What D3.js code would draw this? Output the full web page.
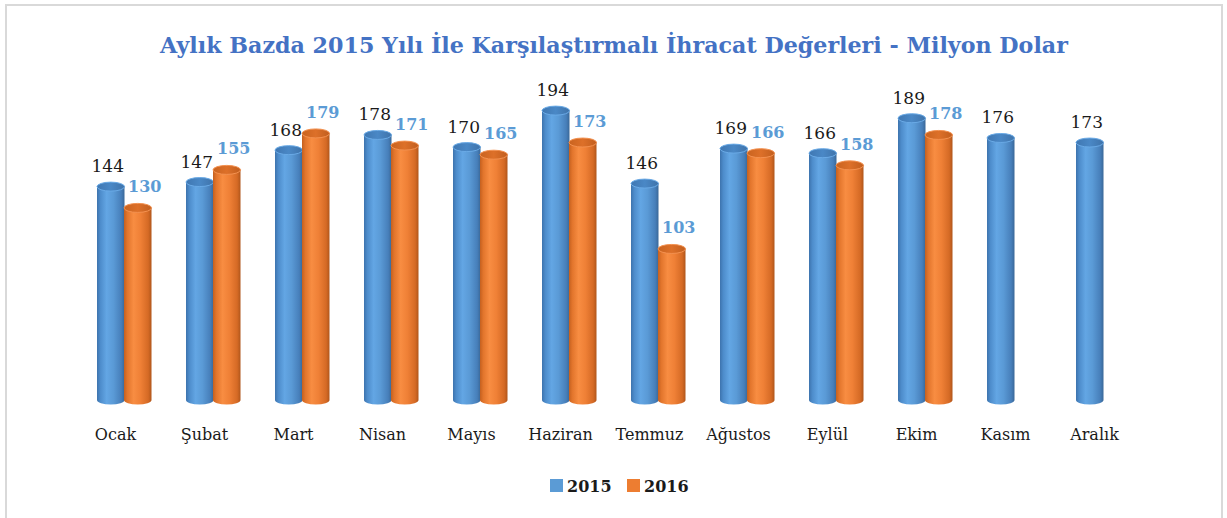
<!DOCTYPE html>
<html>
<head>
<meta charset="utf-8">
<script src="https://cdn.jsdelivr.net/npm/d3@7"></script>
<style>
  body { margin: 0; background: #fff; }
</style>
</head>
<body>
<div id="chart"></div>
<script>
// data
var months = ["Ocak", "Şubat", "Mart", "Nisan", "Mayıs", "Haziran", "Temmuz", "Ağustos", "Eylül", "Ekim", "Kasım", "Aralık"];
var series = ["2015", "2016"];
var values2015 = [144, 147, 168, 178, 170, 194, 146, 169, 166, 189, 176, 173];
var values2016 = [130, 155, 179, 171, 165, 173, 103, 166, 158, 178, null, null];
var title = "Aylık Bazda 2015 Yılı İle Karşılaştırmalı İhracat Değerleri - Milyon Dolar";

var W = 1227, H = 518;
var FONT = "'DejaVu Serif', serif";
var svg = d3.select("#chart").append("svg")
  .attr("width", W)
  .attr("height", H)
  .attr("font-family", FONT);

// gradients for the cylinders
var defs = svg.append("defs");
function bodyGrad(id, stops) {
  var g = defs.append("linearGradient").attr("id", id)
    .attr("x1", "0%").attr("x2", "100%").attr("y1", "0%").attr("y2", "0%");
  stops.forEach(s => g.append("stop").attr("offset", s[0]).attr("stop-color", s[1]));
}
bodyGrad("blueBody", [[0, "#3d73ad"], [0.12, "#4d8ccb"], [0.35, "#63a6e4"], [0.6, "#5a9ad6"], [0.88, "#477fba"], [1, "#3a6898"]]);
bodyGrad("orangeBody", [[0, "#c4601f"], [0.12, "#e2752c"], [0.35, "#f88d42"], [0.6, "#ef8036"], [0.88, "#d56a25"], [1, "#b0561b"]]);
bodyGrad("blueTop", [[0, "#3f77b2"], [0.5, "#4a88c6"], [1, "#3f73aa"]]);
bodyGrad("orangeTop", [[0, "#c9631f"], [0.5, "#dd7029"], [1, "#c15e1e"]]);

// frame
svg.append("rect")
  .attr("x", 6).attr("y", 5)
  .attr("width", 1216).attr("height", 530)
  .attr("fill", "none")
  .attr("stroke", "#d9d9d9")
  .attr("stroke-width", 2);

// title, fitted to its width in the reference
var t = svg.append("text")
  .attr("x", 614).attr("y", 53)
  .attr("text-anchor", "middle")
  .attr("font-weight", "bold")
  .attr("font-size", 24)
  .attr("fill", "#4472c4")
  .text(title);
var tw = t.node().getComputedTextLength();
t.attr("font-size", 24 * 908 / tw);

var x = d3.scaleBand().domain(months).range([79, 79 + 12 * 89]);
var x1 = d3.scaleBand().domain(series).range([18, 73]);
var y = d3.scaleLinear().domain([0, 200]).range([401, 97]);

var ry = 4.5;
var rows = [];
months.forEach((m, i) => {
  rows.push({ month: m, key: "2015", value: values2015[i] });
  if (values2016[i] != null) rows.push({ month: m, key: "2016", value: values2016[i] });
});

var bars = svg.append("g").selectAll("g.bar")
  .data(rows)
  .join("g")
  .attr("class", "bar");

bars.each(function(d) {
  var g = d3.select(this);
  var w = x1.bandwidth();
  var x0 = x(d.month) + x1(d.key) + (d.key === "2016" ? -0.5 : 0);
  var cx = x0 + w / 2;
  var topC = y(d.value) + ry;
  var botC = y(0) - 1;
  var isBlue = d.key === "2015";
  // body with rounded bottom
  g.append("path")
    .attr("d", "M" + x0 + "," + topC + "L" + x0 + "," + botC +
      "A" + (w / 2) + "," + ry + " 0 0 0 " + (x0 + w) + "," + botC +
      "L" + (x0 + w) + "," + topC + "Z")
    .attr("fill", isBlue ? "url(#blueBody)" : "url(#orangeBody)");
  // cap
  g.append("ellipse")
    .attr("cx", cx).attr("cy", topC)
    .attr("rx", w / 2).attr("ry", ry)
    .attr("fill", isBlue ? "url(#blueTop)" : "url(#orangeTop)")
    .attr("stroke", isBlue ? "#6aaae6" : "#f39150")
    .attr("stroke-width", 1);
  // value label
  g.append("text")
    .attr("x", cx + (isBlue ? -3 : 7))
    .attr("y", y(d.value) - (isBlue ? 10 : 11))
    .attr("text-anchor", "middle")
    .attr("font-size", isBlue ? 17 : 16)
    .attr("font-weight", isBlue ? "normal" : "bold")
    .attr("fill", isBlue ? "#1a1a1a" : "#5b9bd5")
    .text(d.value);
});

// month labels
svg.append("g").selectAll("text")
  .data(months)
  .join("text")
  .attr("x", d => x(d) + x.bandwidth() / 2 - 8)
  .attr("y", 440)
  .attr("text-anchor", "middle")
  .attr("font-size", 16)
  .attr("fill", "#1a1a1a")
  .text(d => d);

// legend
var legendColors = ["#5b9bd5", "#ed7d31"];
var legX = [550, 627];
var leg = svg.append("g").selectAll("g")
  .data(series)
  .join("g")
  .attr("transform", (d, i) => "translate(" + legX[i] + ",479)");
leg.append("rect")
  .attr("width", 13).attr("height", 13)
  .attr("fill", (d, i) => legendColors[i]);
leg.append("text")
  .attr("x", 17).attr("y", 13)
  .attr("font-size", 16)
  .attr("font-weight", "bold")
  .attr("fill", "#1a1a1a")
  .text(d => d);
</script>
</body>
</html>
